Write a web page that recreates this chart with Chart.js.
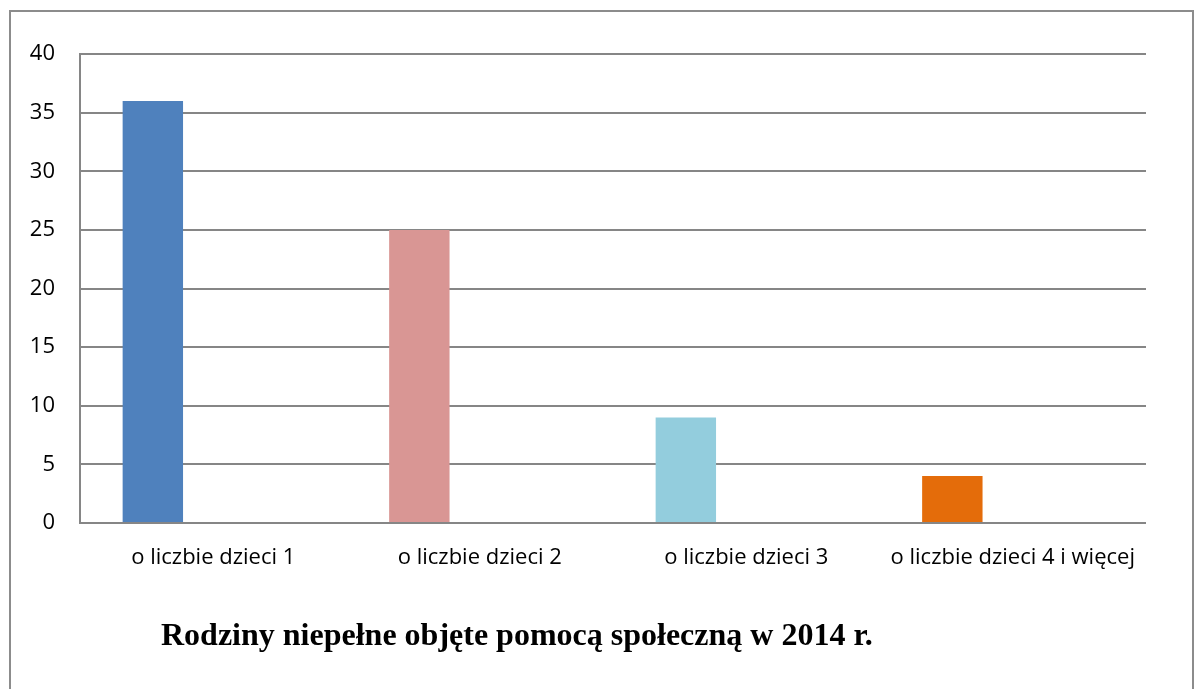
<!DOCTYPE html>
<html>
<head>
<meta charset="utf-8">
<script src="https://cdn.jsdelivr.net/npm/chart.js@4"></script>
<style>
  html, body { margin: 0; padding: 0; background: #fff; overflow: hidden; }
  #frame { position: absolute; left: 9px; top: 10px; width: 1181px; height: 700px; border: 2px solid #8c8c8c; border-bottom: none; }
  #wrap { position: absolute; left: 0; top: 0; width: 1198px; height: 689px; }
  #title { position: absolute; left: 161px; top: 618px; font: bold 32px/1 "Liberation Serif", "Times New Roman", serif; color: #000; white-space: nowrap; }
</style>
</head>
<body>
<div id="frame"></div>
<div id="wrap"><canvas id="chart"></canvas></div>
<div id="title">Rodziny niepełne objęte pomocą społeczną w 2014 r.</div>
<script>
  const categories = ["o liczbie dzieci 1", "o liczbie dzieci 2", "o liczbie dzieci 3", "o liczbie dzieci 4 i więcej"];
  const values = [36, 25, 9, 4];
  const emptySeries = [null, null, null, null];
  const barColors = ["#4f81bd", "#d99694", "#93cddd", "#e46c0a"];
  const yTicks = [0, 5, 10, 15, 20, 25, 30, 35, 40];

  const GRID = "#868686";

  new Chart(document.getElementById("chart"), {
    type: "bar",
    data: {
      labels: categories,
      datasets: [
        { data: values, backgroundColor: barColors },
        { data: emptySeries },
        { data: emptySeries },
      ],
    },
    options: {
      responsive: true,
      maintainAspectRatio: false,
      animation: false,
      categoryPercentage: 0.68,
      barPercentage: 1,
      layout: { padding: { left: 0, right: 52, top: 54, bottom: 106 } },
      plugins: { legend: { display: false }, tooltip: { enabled: false } },
      scales: {
        x: {
          grid: { display: false },
          border: { display: false },
          ticks: { color: "#000", padding: 14, maxRotation: 0, font: { family: "Open Sans", size: 22 } },
          afterFit: s => { s.height = 60; },
        },
        y: {
          min: 0,
          max: 40,
          afterBuildTicks: s => { s.ticks = yTicks.map(v => ({ value: v })); },
          grid: { color: GRID, lineWidth: 2, drawTicks: false },
          border: { display: true, color: GRID, width: 2 },
          ticks: { color: "#000", padding: 25, font: { family: "Open Sans", size: 22 } },
          afterFit: s => { s.width = 80; },
        },
      },
    },
  });
</script>
</body>
</html>
